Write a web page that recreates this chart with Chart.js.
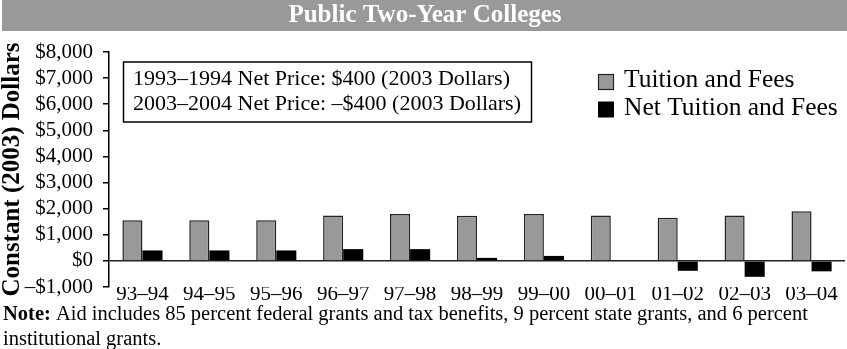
<!DOCTYPE html>
<html>
<head>
<meta charset="utf-8">
<title>Public Two-Year Colleges</title>
<script src="https://cdn.jsdelivr.net/npm/chart.js@4.4.1/dist/chart.umd.min.js"></script>
<style>
    html, body { margin: 0; padding: 0; background: #fff; }
    #contenedor { position: relative; width: 847px; height: 349px; }
</style>
</head>
<body>
<div id="contenedor">
    <canvas id="graficoColegios"></canvas>
</div>
<script>
const temporadas = ['93–94', '94–95', '95–96', '96–97', '97–98', '98–99', '99–00', '00–01', '01–02', '02–03', '03–04'];
const matricula = [1560, 1560, 1560, 1740, 1800, 1730, 1800, 1740, 1650, 1740, 1900];
const matriculaNeta = [400, 400, 400, 450, 450, 115, 190, 0, -380, -610, -400];

const nombresSeries = ['Tuition and Fees', 'Net Tuition and Fees'];
const lineasPrecio = [
    '1993–1994 Net Price: $400 (2003 Dollars)',
    '2003–2004 Net Price: –$400 (2003 Dollars)'
];
const tituloGrafico = 'Public Two-Year Colleges';
const tituloEjeY = 'Constant (2003) Dollars';
const notaNegrita = 'Note:';
const notaLineas = [
    ' Aid includes 85 percent federal grants and tax benefits, 9 percent state grants, and 6 percent',
    'institutional grants.'
];

const SERIF = '"Liberation Serif", "Times New Roman", serif';
const GRIS = '#999999';

// Gray band with the title at the top
const bandaTitulo = {
    id: 'bandaTitulo',
    beforeDraw(chart) {
        const c = chart.ctx;
        c.save();
        c.fillStyle = GRIS;
        c.fillRect(2, 0, chart.width - 2, 31);
        c.fillStyle = '#fff';
        c.font = 'bold 25px ' + SERIF;
        c.textAlign = 'center';
        c.textBaseline = 'alphabetic';
        c.fillText(tituloGrafico, 425, 22);
        c.restore();
    }
};

// Box with net prices, legend and the note below
const extras = {
    id: 'extras',
    afterDraw(chart) {
        const c = chart.ctx;
        c.save();

        // recuadro
        c.fillStyle = '#fff';
        c.fillRect(123.5, 62, 408, 60);
        c.strokeStyle = '#000';
        c.lineWidth = 1.5;
        c.strokeRect(123.5, 62, 408, 60);
        c.fillStyle = '#000';
        c.font = '22px ' + SERIF;
        c.textAlign = 'left';
        c.textBaseline = 'alphabetic';
        c.fillText(lineasPrecio[0], 133, 85);
        c.fillText(lineasPrecio[1], 133, 110);

        // leyenda
        const ds = chart.data.datasets;
        const filas = [74, 101.5];
        c.font = '25.5px ' + SERIF;
        ds.forEach((d, i) => {
            c.fillStyle = d.backgroundColor;
            c.fillRect(598, filas[i], 16, 16);
            if (d.borderWidth) {
                c.strokeStyle = '#222';
                c.lineWidth = 1.2;
                c.strokeRect(598.5, filas[i] + 0.5, 15, 15);
            }
            c.fillStyle = '#000';
            c.fillText(d.label, 624, filas[i] + 13);
        });

        // nota
        c.font = 'bold 20.5px ' + SERIF;
        c.fillText(notaNegrita, 3, 320);
        const w = c.measureText(notaNegrita).width;
        c.font = '20.5px ' + SERIF;
        c.fillText(notaLineas[0], 3 + w, 320);
        c.fillText(notaLineas[1], 3, 345);

        c.restore();
    }
};

const ctx = document.getElementById('graficoColegios');

new Chart(ctx, {
    type: 'bar',
    data: {
        labels: temporadas,
        datasets: [
            {
                label: nombresSeries[0],
                data: matricula,
                backgroundColor: GRIS,
                borderColor: '#222',
                borderWidth: 1.5,
                categoryPercentage: 0.6,
                barPercentage: 1.0
            },
            {
                label: nombresSeries[1],
                data: matriculaNeta,
                backgroundColor: '#000',
                borderWidth: 0,
                categoryPercentage: 0.6,
                barPercentage: 1.0
            }
        ]
    },
    options: {
        responsive: true,
        maintainAspectRatio: false,
        animation: false,
        layout: {
            padding: { top: 52, right: 2, left: 0, bottom: 0 }
        },
        plugins: {
            legend: { display: false },
            title: { display: false },
            tooltip: { enabled: false }
        },
        scales: {
            x: {
                grid: { display: false, drawTicks: false },
                border: { display: false },
                ticks: {
                    color: '#000',
                    font: { family: SERIF, size: 21 },
                    padding: -5,
                    maxRotation: 0,
                    autoSkip: false
                },
                afterFit(scale) { scale.height = 62; }
            },
            y: {
                min: -1000,
                max: 8000,
                ticks: {
                    stepSize: 1000,
                    autoSkip: false,
                    color: '#000',
                    font: { family: SERIF, size: 21 },
                    padding: 10,
                    callback: function (v) {
                        const txt = '$' + Math.abs(v).toLocaleString('en-US');
                        return v < 0 ? '–' + txt : txt;
                    }
                },
                grid: {
                    color: (c) => (c.tick && c.tick.value === 0 ? '#222' : 'rgba(0,0,0,0)'),
                    tickColor: '#000',
                    tickLength: 6,
                    lineWidth: 1.5
                },
                border: { display: true, color: '#000', width: 1.5 },
                title: {
                    display: true,
                    text: tituloEjeY,
                    color: '#000',
                    font: { family: SERIF, size: 25, weight: 'bold', lineHeight: 1 },
                    padding: { top: 0, bottom: 0 }
                },
                afterFit(scale) { scale.width = 109; }
            }
        }
    },
    plugins: [bandaTitulo, extras]
});
</script>
</body>
</html>
